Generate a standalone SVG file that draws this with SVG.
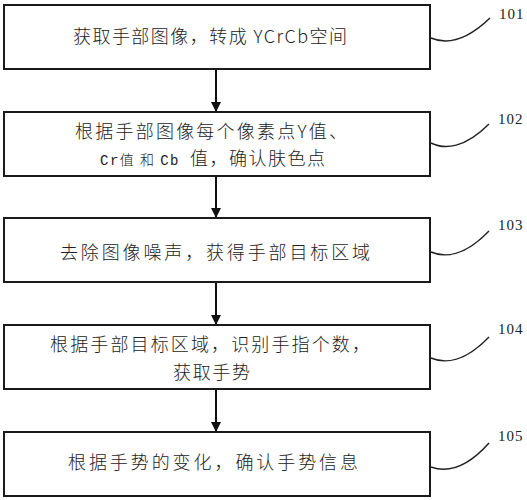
<svg xmlns="http://www.w3.org/2000/svg" width="527" height="500" viewBox="0 0 527 500">
<style>
.box{fill:#fff;stroke:#1a1a1a;stroke-width:2}
.t{font-family:"Noto Sans CJK SC","Liberation Sans",sans-serif;font-size:18px;font-weight:300;fill:#222}
.s{font-family:"Liberation Mono","Noto Sans CJK SC",monospace;font-size:14px}
.lbl{font-family:"Liberation Serif",serif;font-size:15px;fill:#222;letter-spacing:1px}
.lead{fill:none;stroke:#222;stroke-width:1.5}
.conn{stroke:#111;stroke-width:2;fill:none}
</style>
<defs>
<marker id="ah" viewBox="0 0 10 10" refX="10" refY="5" markerWidth="5" markerHeight="5" orient="auto" markerUnits="strokeWidth">
<path d="M0,0 L10,5 L0,10 z" fill="#111"/>
</marker>
</defs>
<rect width="527" height="500" fill="#fff"/>
<g id="connectors">
<line class="conn" x1="216" y1="69" x2="216" y2="112" marker-end="url(#ah)"/>
<line class="conn" x1="216" y1="176" x2="216" y2="218" marker-end="url(#ah)"/>
<line class="conn" x1="216" y1="282" x2="216" y2="325" marker-end="url(#ah)"/>
<line class="conn" x1="216" y1="389" x2="216" y2="432" marker-end="url(#ah)"/>
</g>
<g id="n101">
<rect class="box" x="4" y="5" width="426" height="64"/>
<text class="t" x="73" y="43" textLength="274" lengthAdjust="spacing">获取手部图像，转成 YCrCb空间</text>
<path class="lead" d="M431,38 C445,44 465,42 490,18"/>
<text class="lbl" x="499" y="19">101</text>
</g>
<g id="n102">
<rect class="box" x="4" y="112" width="426" height="64"/>
<text class="t" x="75" y="138" textLength="272" lengthAdjust="spacing">根据手部图像每个像素点Y值、</text>
<text class="t" x="100" y="165" textLength="225" lengthAdjust="spacing"><tspan class="s">Cr</tspan><tspan font-size="14">值 和 </tspan><tspan class="s">Cb </tspan>值，确认肤色点</text>
<path class="lead" d="M431,143 C445,150 465,148 489,124"/>
<text class="lbl" x="498" y="124">102</text>
</g>
<g id="n103">
<rect class="box" x="4" y="218" width="426" height="64"/>
<text class="t" x="60" y="259" textLength="310" lengthAdjust="spacing">去除图像噪声，获得手部目标区域</text>
<path class="lead" d="M431,252 C445,258 465,256 489,231"/>
<text class="lbl" x="498" y="230">103</text>
</g>
<g id="n104">
<rect class="box" x="4" y="325" width="426" height="64"/>
<text class="t" x="50" y="351" textLength="320" lengthAdjust="spacing">根据手部目标区域，识别手指个数，</text>
<text class="t" x="173" y="379" textLength="77" lengthAdjust="spacing">获取手势</text>
<path class="lead" d="M431,358 C445,364 465,362 489,337"/>
<text class="lbl" x="498" y="334">104</text>
</g>
<g id="n105">
<rect class="box" x="4" y="432" width="426" height="64"/>
<text class="t" x="68" y="469" textLength="290" lengthAdjust="spacing">根据手势的变化，确认手势信息</text>
<path class="lead" d="M431,467 C445,472 465,470 489,443"/>
<text class="lbl" x="498" y="441">105</text>
</g>
</svg>
